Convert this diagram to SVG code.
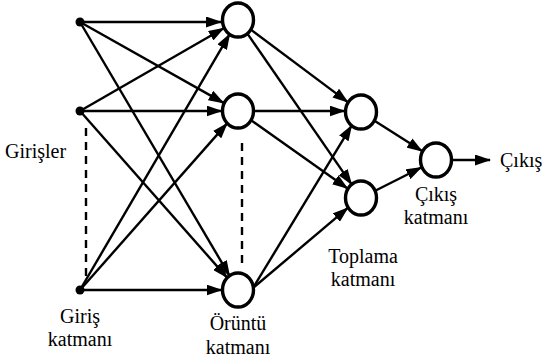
<svg xmlns="http://www.w3.org/2000/svg" width="546" height="360" viewBox="0 0 546 360">
<style>
.e{stroke:#000;stroke-width:2.4;fill:none;marker-end:url(#ah)}
.n{fill:#fff;stroke:#000;stroke-width:3.4}
.d{fill:#000}
.dash{stroke:#000;stroke-width:2.4;stroke-dasharray:8,6;fill:none}
.t{font-family:'Liberation Serif','Times New Roman',Tinos,serif;font-size:20px;fill:#000}
</style>
<defs>
<marker id="ah" markerUnits="userSpaceOnUse" markerWidth="16" markerHeight="11" refX="15" refY="5.5" orient="auto">
<path d="M0,0 L16,5.5 L0,11 z" fill="#000"/>
</marker>
</defs>
<g id="connectors">
<line class="e" x1="80" y1="22" x2="221" y2="22"/>
<line class="e" x1="80" y1="22" x2="223.6" y2="102.9"/>
<line class="e" x1="80" y1="22" x2="229.6" y2="275.8"/>
<line class="e" x1="80" y1="111" x2="223.7" y2="28.2"/>
<line class="e" x1="80" y1="111" x2="221.5" y2="111"/>
<line class="e" x1="80" y1="111" x2="227.1" y2="277.6"/>
<line class="e" x1="80" y1="290" x2="229.7" y2="34.2"/>
<line class="e" x1="80" y1="290" x2="227.1" y2="123.4"/>
<line class="e" x1="80" y1="290" x2="221.5" y2="290"/>
<line class="e" x1="251.2" y1="29.9" x2="347.8" y2="102.1"/>
<line class="e" x1="247.4" y1="33.6" x2="351.6" y2="184.4"/>
<line class="e" x1="254.5" y1="111" x2="344.5" y2="111"/>
<line class="e" x1="251.5" y1="120.5" x2="347.5" y2="188.5"/>
<line class="e" x1="253" y1="288" x2="351.6" y2="125.6"/>
<line class="e" x1="253" y1="288" x2="347.8" y2="207.9"/>
<line class="e" x1="374.9" y1="120.9" x2="422.1" y2="151.1"/>
<line class="e" x1="375.7" y1="190.5" x2="421.3" y2="167.5"/>
<line class="e" x1="452.5" y1="160" x2="490" y2="160"/>
<line class="dash" x1="86" y1="128" x2="86" y2="280"/>
<line class="dash" x1="242" y1="143" x2="242" y2="265"/>
</g>
<g id="in1"><circle class="d" cx="80" cy="22" r="4.5"/></g>
<g id="in2"><circle class="d" cx="80" cy="111" r="4.5"/></g>
<g id="in3"><circle class="d" cx="80" cy="290" r="4.5"/></g>
<g id="p1"><ellipse class="n" cx="238" cy="20" rx="15.5" ry="17"/></g>
<g id="p2"><ellipse class="n" cx="238" cy="111" rx="15.5" ry="17"/></g>
<g id="p3"><ellipse class="n" cx="238" cy="290" rx="15.5" ry="17"/></g>
<g id="s1"><ellipse class="n" cx="361" cy="112" rx="15.5" ry="17"/></g>
<g id="s2"><ellipse class="n" cx="361" cy="198" rx="15.5" ry="17"/></g>
<g id="o"><ellipse class="n" cx="436" cy="160" rx="15.5" ry="17"/></g>
<g id="labels">
<text class="t" x="5" y="158">Girişler</text>
<text class="t" x="80" y="323" text-anchor="middle">Giriş</text>
<text class="t" x="80" y="346" text-anchor="middle">katmanı</text>
<text class="t" x="238" y="330" text-anchor="middle">Örüntü</text>
<text class="t" x="238" y="354" text-anchor="middle">katmanı</text>
<text class="t" x="363" y="263" text-anchor="middle">Toplama</text>
<text class="t" x="363" y="286" text-anchor="middle">katmanı</text>
<text class="t" x="436" y="201" text-anchor="middle">Çıkış</text>
<text class="t" x="436" y="224" text-anchor="middle">katmanı</text>
<text class="t" x="500" y="167">Çıkış</text>
</g>
</svg>
